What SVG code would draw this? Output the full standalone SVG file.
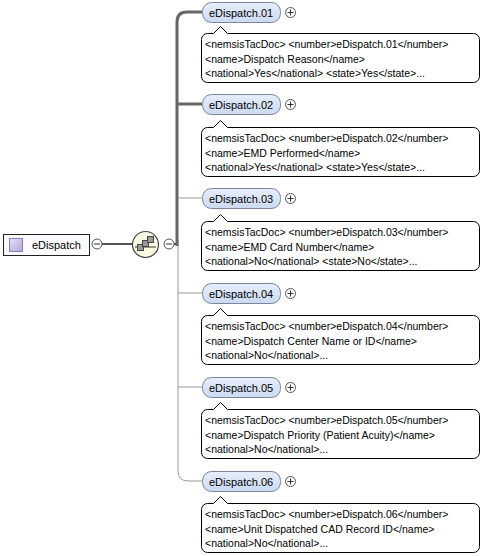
<svg xmlns="http://www.w3.org/2000/svg" xmlns:xlink="http://www.w3.org/1999/xlink" width="487" height="556" viewBox="0 0 487 556">
<style>
text{font-family:"Liberation Sans",Arial,sans-serif;fill:#000}
.el{fill:url(#elg);stroke:#7b8798;stroke-width:1}
.lbl{font-size:11px}
.doc{fill:#fff;stroke:#000;stroke-width:1}
.dt{font-size:10.5px}
.pc{fill:#fff;stroke:#555;stroke-width:1}
.pl{stroke:#333;stroke-width:1;fill:none}
.thick{stroke:#666;stroke-width:3;fill:none}
.thin{stroke:#999;stroke-width:1;fill:none}
</style>
<defs>
<linearGradient id="elg" x1="0" y1="0" x2="0" y2="1">
<stop offset="0" stop-color="#e6eefb"/>
<stop offset="1" stop-color="#cbdaf2"/>
</linearGradient>
<linearGradient id="icg" x1="0" y1="0" x2="1" y2="1">
<stop offset="0" stop-color="#e4def6"/>
<stop offset="1" stop-color="#b4a8dc"/>
</linearGradient>
<path id="docshape" d="M6,0 H12 L19,-7 L26,0 H272 A6,6 0 0 1 278,6 V43 A6,6 0 0 1 272,49 H6 A6,6 0 0 1 0,43 V6 A6,6 0 0 1 6,0 Z"/>
<g id="plus"><circle class="pc" cx="0" cy="0" r="5"/><path class="pl" d="M-3,0 H3 M0,-3 V3"/></g>
<g id="minus"><circle class="pc" cx="0" cy="0" r="5"/><path class="pl" d="M-3,0 H3"/></g>
</defs>

<g id="connectors">
<path class="thin" d="M102,244 H132"/>
<path d="M102,244 H132" stroke="#555" stroke-width="2"/>
<path d="M174,244 H177" stroke="#555" stroke-width="2"/>
<path class="thin" d="M178,240 V471 Q178,481 188,481 H202"/>
<path class="thick" d="M177,246 V22 Q177,12 187,12 H202"/>
<path class="thick" d="M177,104 H202"/>
<path class="thin" d="M178,198 H202"/>
<path class="thin" d="M178,293 H202"/>
<path class="thin" d="M178,387 H202"/>
</g>

<g id="eDispatch">
<rect x="3.5" y="234.5" width="86" height="21" fill="#fbfbff" stroke="#222"/>
<rect x="9.5" y="238.5" width="13" height="13" fill="url(#icg)" stroke="#8a7cc0"/>
<text class="lbl" x="32" y="248.5">eDispatch</text>
<use xlink:href="#minus" x="97" y="244"/>
</g>

<g id="sequence">
<circle cx="145.5" cy="244.5" r="13" fill="#fbfbe4" stroke="#444" stroke-width="1.2"/>
<path d="M135,247 H156" stroke="#333" stroke-width="1"/>
<rect x="137.5" y="244.5" width="6" height="6" fill="#999" stroke="#444"/>
<rect x="142.5" y="240.5" width="6" height="6" fill="#999" stroke="#444"/>
<rect x="147.5" y="236.5" width="6" height="6" fill="#999" stroke="#444"/>
<use xlink:href="#minus" x="169" y="244"/>
</g>

<g id="eDispatch.01">
<rect class="el" x="202.5" y="2.5" width="78" height="20" rx="9"/>
<text class="lbl" x="209" y="16.5">eDispatch.01</text>
<use xlink:href="#plus" x="290.5" y="12.5"/>
<use xlink:href="#docshape" class="doc" x="201.5" y="33.5"/>
<text class="dt" x="205" y="48">&lt;nemsisTacDoc&gt; &lt;number&gt;eDispatch.01&lt;/number&gt;</text>
<text class="dt" x="205" y="62.5">&lt;name&gt;Dispatch Reason&lt;/name&gt;</text>
<text class="dt" x="205" y="77">&lt;national&gt;Yes&lt;/national&gt; &lt;state&gt;Yes&lt;/state&gt;...</text>
</g>

<g id="eDispatch.02">
<rect class="el" x="202.5" y="94.5" width="78" height="20" rx="9"/>
<text class="lbl" x="209" y="108.5">eDispatch.02</text>
<use xlink:href="#plus" x="290.5" y="104.5"/>
<use xlink:href="#docshape" class="doc" x="201.5" y="127.5"/>
<text class="dt" x="205" y="142">&lt;nemsisTacDoc&gt; &lt;number&gt;eDispatch.02&lt;/number&gt;</text>
<text class="dt" x="205" y="156.5">&lt;name&gt;EMD Performed&lt;/name&gt;</text>
<text class="dt" x="205" y="171">&lt;national&gt;Yes&lt;/national&gt; &lt;state&gt;Yes&lt;/state&gt;...</text>
</g>

<g id="eDispatch.03">
<rect class="el" x="202.5" y="188.5" width="78" height="20" rx="9"/>
<text class="lbl" x="209" y="202.5">eDispatch.03</text>
<use xlink:href="#plus" x="290.5" y="198.5"/>
<use xlink:href="#docshape" class="doc" x="201.5" y="221.5"/>
<text class="dt" x="205" y="236">&lt;nemsisTacDoc&gt; &lt;number&gt;eDispatch.03&lt;/number&gt;</text>
<text class="dt" x="205" y="250.5">&lt;name&gt;EMD Card Number&lt;/name&gt;</text>
<text class="dt" x="205" y="265">&lt;national&gt;No&lt;/national&gt; &lt;state&gt;No&lt;/state&gt;...</text>
</g>

<g id="eDispatch.04">
<rect class="el" x="202.5" y="283.5" width="78" height="20" rx="9"/>
<text class="lbl" x="209" y="297.5">eDispatch.04</text>
<use xlink:href="#plus" x="290.5" y="293.5"/>
<use xlink:href="#docshape" class="doc" x="201.5" y="315.5"/>
<text class="dt" x="205" y="330">&lt;nemsisTacDoc&gt; &lt;number&gt;eDispatch.04&lt;/number&gt;</text>
<text class="dt" x="205" y="344.5">&lt;name&gt;Dispatch Center Name or ID&lt;/name&gt;</text>
<text class="dt" x="205" y="359">&lt;national&gt;No&lt;/national&gt;...</text>
</g>

<g id="eDispatch.05">
<rect class="el" x="202.5" y="377.5" width="78" height="20" rx="9"/>
<text class="lbl" x="209" y="391.5">eDispatch.05</text>
<use xlink:href="#plus" x="290.5" y="387.5"/>
<use xlink:href="#docshape" class="doc" x="201.5" y="409.5"/>
<text class="dt" x="205" y="424">&lt;nemsisTacDoc&gt; &lt;number&gt;eDispatch.05&lt;/number&gt;</text>
<text class="dt" x="205" y="438.5">&lt;name&gt;Dispatch Priority (Patient Acuity)&lt;/name&gt;</text>
<text class="dt" x="205" y="453">&lt;national&gt;No&lt;/national&gt;...</text>
</g>

<g id="eDispatch.06">
<rect class="el" x="202.5" y="471.5" width="78" height="20" rx="9"/>
<text class="lbl" x="209" y="485.5">eDispatch.06</text>
<use xlink:href="#plus" x="290.5" y="481.5"/>
<use xlink:href="#docshape" class="doc" x="201.5" y="503.5"/>
<text class="dt" x="205" y="518">&lt;nemsisTacDoc&gt; &lt;number&gt;eDispatch.06&lt;/number&gt;</text>
<text class="dt" x="205" y="532.5">&lt;name&gt;Unit Dispatched CAD Record ID&lt;/name&gt;</text>
<text class="dt" x="205" y="547">&lt;national&gt;No&lt;/national&gt;...</text>
</g>
</svg>
